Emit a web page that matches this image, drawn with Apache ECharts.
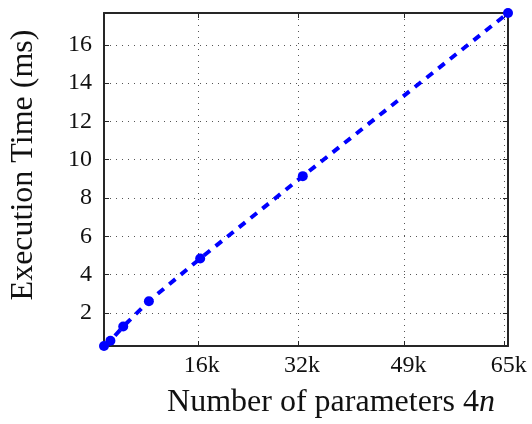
<!DOCTYPE html>
<html>
<head>
<meta charset="utf-8">
<script src="https://cdn.jsdelivr.net/npm/echarts@6/dist/echarts.min.js"></script>
<style>html,body{margin:0;padding:0;background:#fff;}#c{width:532px;height:424px;}</style>
</head>
<body>
<div id="c"></div>
<script>
// Data
const paramCounts = [1024, 2048, 4096, 8192, 16384, 32768, 65536];
const execTimes = [0.27, 0.54, 1.29, 2.61, 4.84, 9.14, 17.66];
const xTickValues = [16000, 32000, 49000, 65000];
const xTickLabels = ['16k', '32k', '49k', '65k'];
const yTickValues = [2, 4, 6, 8, 10, 12, 14, 16];

const xMin = Math.min(...paramCounts), xMax = Math.max(...paramCounts);
const yMin = Math.min(...execTimes), yMax = Math.max(...execTimes);
const FONT = "'Liberation Serif', 'Times New Roman', serif";
const AX = '#262626';

const chart = echarts.init(document.getElementById('c'));
const baseAxisLine = { show: true, lineStyle: { color: AX, width: 2 } };
const tick = (vals) => ({ show: true, inside: true, length: 5, customValues: vals, lineStyle: { color: AX, width: 1 } });
const split = { show: true, lineStyle: { color: '#555', width: 1, type: [1, 5] } };

chart.setOption({
  animation: false,
  grid: { left: 104, right: 24, top: 13, bottom: 78, containLabel: false, outerBoundsMode: 'none' },
  xAxis: [{
    type: 'value', min: xMin, max: xMax, position: 'bottom',
    axisLine: baseAxisLine,
    axisTick: tick(xTickValues),
    splitLine: split,
    axisLabel: {
      customValues: xTickValues,
      formatter: (v) => xTickLabels[xTickValues.indexOf(v)] || '',
      fontFamily: FONT, fontSize: 24, color: '#111', margin: 8,
      padding: [0, 0, 0, 8]
    },
    name: '{a|Number of parameters 4}{i|n}',
    nameLocation: 'middle', nameGap: 41,
    nameTextStyle: {
      padding: [0, 0, 0, 50],
      rich: {
        a: { fontFamily: FONT, fontSize: 32, color: '#111' },
        i: { fontFamily: FONT, fontSize: 32, fontStyle: 'italic', color: '#111' }
      }
    }
  }, {
    type: 'value', min: xMin, max: xMax, position: 'top',
    axisLine: baseAxisLine,
    axisTick: tick(xTickValues),
    splitLine: { show: false },
    axisLabel: { show: false }
  }],
  yAxis: [{
    type: 'value', min: yMin, max: yMax, position: 'left',
    axisLine: baseAxisLine,
    axisTick: tick(yTickValues),
    splitLine: split,
    axisLabel: {
      customValues: yTickValues,
      fontFamily: FONT, fontSize: 24, color: '#111', margin: 12
    },
    name: 'Execution Time (ms)',
    nameLocation: 'middle', nameGap: 64, nameRotate: 90,
    nameTextStyle: { fontFamily: FONT, fontSize: 32, color: '#111', padding: [0, 0, 0, 29] }
  }, {
    type: 'value', min: yMin, max: yMax, position: 'right',
    axisLine: baseAxisLine,
    axisTick: tick(yTickValues),
    splitLine: { show: false },
    axisLabel: { show: false }
  }],
  series: [{
    type: 'line',
    data: paramCounts.map((x, i) => [x, execTimes[i]]),
    lineStyle: { color: '#0000ff', width: 4, type: [8, 7] },
    itemStyle: { color: '#0000ff' },
    symbol: 'circle', symbolSize: 10,
    clip: false
  }]
});
</script>
</body>
</html>
